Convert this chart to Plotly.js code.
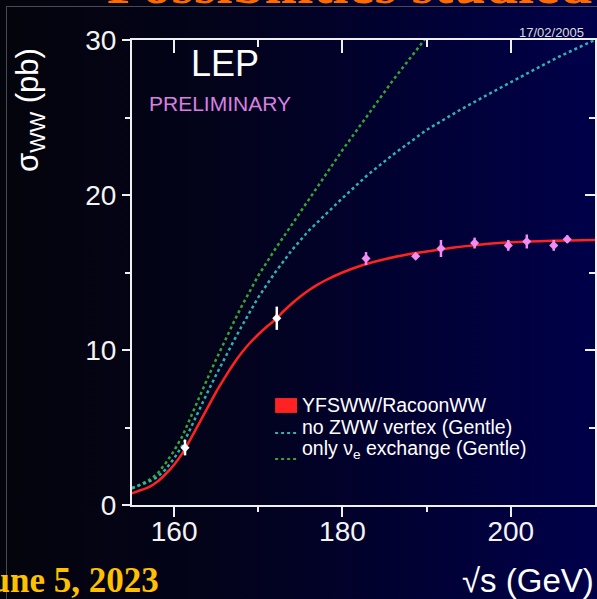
<!DOCTYPE html>
<html>
<head>
<meta charset="utf-8">
<script src="https://cdn.plot.ly/plotly-3.0.1.min.js"></script>
<style>
  html, body { margin:0; padding:0; width:597px; height:599px; overflow:hidden;
    background: linear-gradient(to right, #04040c 0%, #03031a 35%, #010130 65%, #00004a 100%); }
  #frame { position:absolute; left:6px; top:6px; width:640px; height:640px; border-left:1px solid #4a4a55; border-top:1px solid #4a4a55; }
  #chart { position:absolute; left:0; top:0; width:597px; height:599px; }
</style>
</head>
<body>
<div id="frame"></div>
<div id="chart"></div>
<script>
// ---- data ----
const dataEnergy = [161.3, 172.2, 182.8, 188.7, 191.7, 195.7, 199.7, 201.9, 205.1, 206.7];
const dataXsec   = [3.7, 12.05, 15.9, 16.05, 16.55, 16.9, 16.75, 17.0, 16.75, 17.15];
const dataErr    = [0.5, 0.75, 0.42, 0.2, 0.55, 0.35, 0.35, 0.45, 0.35, 0.25];
const dataGroup  = ['white','white','pink','pink','pink','pink','pink','pink','pink','pink'];

const redE = [155,156,157,158,159,160,161,162,163,164,165,166,167,168,169,170,171,172,173,174,175,176,177,178,180,182,185,188,190,193,196,200,205,210];
const redY = [0.75,0.95,1.15,1.5,2.0,2.6,3.35,4.3,5.3,6.3,7.3,8.2,9.05,9.8,10.45,11.0,11.5,11.95,12.5,13.0,13.45,13.85,14.2,14.5,15.0,15.4,15.85,16.2,16.35,16.6,16.78,16.95,17.05,17.1];

const tealE = [155,156,157,158,159,160,161,162,163,164,165,166,167,168,170,172,174,176,178,180,183,186,190,194,197,200,203,206,210];
const tealY = [1.1,1.3,1.5,1.8,2.3,3.0,3.85,5.0,6.2,7.3,8.4,9.5,10.5,11.5,13.4,15.0,16.45,17.7,18.75,19.8,21.3,22.6,24.2,25.5,26.4,27.3,28.15,29.0,30.0];

const greenE = [155,156,157,158,159,160,161,162,163,164,165,166,167,168,170,172,174,176,178,180,182,184,186,188,190];
const greenY = [1.05,1.3,1.6,2.0,2.7,3.5,4.45,5.7,7.0,8.2,9.4,10.6,11.7,12.8,14.8,16.5,18.1,19.7,21.3,22.9,24.4,25.9,27.4,28.8,30.2];

const xTicks = [160, 180, 200];
const xMinor = [170, 190];
const yTicks = [0, 10, 20, 30];
const yMinor = [5, 15, 25];

const legendNames = ['YFSWW/RacoonWW', 'no ZWW vertex (Gentle)', 'only ν<sub>e</sub> exchange (Gentle)'];

// ---- build ----
const colRed = '#ff2222', colTeal = '#2fb3b0', colGreen = '#35a535', colPink = '#f28cf0';
function pick(arr, g) { return arr.filter((v, i) => dataGroup[i] === g); }

const traces = [
  {x: greenE, y: greenY, mode:'lines', line:{color:colGreen, width:2.5, dash:'3px,3px'}, hoverinfo:'skip'},
  {x: tealE, y: tealY, mode:'lines', line:{color:colTeal, width:2.5, dash:'3px,3px'}, hoverinfo:'skip'},
  {x: redE, y: redY, mode:'lines', line:{color:colRed, width:2.5, shape:'spline'}, hoverinfo:'skip'},
  {x: pick(dataEnergy,'white'), y: pick(dataXsec,'white'), mode:'markers',
   marker:{color:'#ffffff', size:7, symbol:'diamond'},
   error_y:{type:'data', array: pick(dataErr,'white'), color:'#ffffff', thickness:2.5, width:0}},
  {x: pick(dataEnergy,'pink'), y: pick(dataXsec,'pink'), mode:'markers',
   marker:{color:colPink, size:7, symbol:'diamond'},
   error_y:{type:'data', array: pick(dataErr,'pink'), color:colPink, thickness:2.5, width:0}},
  {x: [], y: [], xaxis:'x2', yaxis:'y2', showlegend:false, hoverinfo:'skip'}
];

const axColor = '#f0f0f0';
const tickFont = {family:'Liberation Sans, Arial, sans-serif', size:28, color:'#f4f4f4'};

const layout = {
  width:597, height:599,
  margin:{l:132, r:2, t:40, b:94},
  paper_bgcolor:'rgba(0,0,0,0)', plot_bgcolor:'rgba(0,0,0,0)',
  showlegend:false,
  xaxis:{range:[155,210], tickvals:xTicks, ticktext:xTicks.map(String), ticks:'outside', ticklen:10, tickwidth:2, tickcolor:axColor,
         ticklabelstandoff:-10,
         minor:{tickvals:xMinor, ticks:'outside', ticklen:5, tickwidth:2, tickcolor:axColor},
         showline:true, linecolor:axColor, linewidth:2, showgrid:false, zeroline:false, tickfont:tickFont},
  yaxis:{range:[0,30], tickvals:yTicks, ticks:'outside', ticklen:8, tickwidth:2, tickcolor:axColor,
         minor:{tickvals:yMinor, ticks:'outside', ticklen:5, tickwidth:2, tickcolor:axColor},
         showline:true, linecolor:axColor, linewidth:2, showgrid:false, zeroline:false, tickfont:tickFont},
  xaxis2:{range:[155,210], overlaying:'x', side:'top', anchor:'y2', tickvals:xTicks, ticks:'inside', ticklen:13, tickwidth:2, tickcolor:axColor,
          minor:{tickvals:xMinor, ticks:'inside', ticklen:7, tickwidth:2, tickcolor:axColor},
          showticklabels:false, showline:true, linecolor:axColor, linewidth:2, showgrid:false, zeroline:false},
  yaxis2:{range:[0,30], overlaying:'y', side:'right', anchor:'x2', tickvals:yTicks, ticks:'inside', ticklen:10, tickwidth:2, tickcolor:axColor,
          minor:{tickvals:yMinor, ticks:'inside', ticklen:6, tickwidth:2, tickcolor:axColor},
          showticklabels:false, showline:true, linecolor:axColor, linewidth:2, showgrid:false, zeroline:false},
  shapes:[
    {type:'rect', xref:'x', yref:'y', x0:172.0, x1:174.6, y0:5.94, y1:6.9, fillcolor:colRed, line:{width:0}},
    {type:'line', xref:'x', yref:'y', x0:172.0, x1:174.6, y0:4.65, y1:4.65, line:{color:colTeal, width:2, dash:'3px,3px'}},
    {type:'line', xref:'x', yref:'y', x0:172.0, x1:174.6, y0:2.97, y1:2.97, line:{color:colGreen, width:2, dash:'3px,3px'}}
  ],
  annotations:[
    {text:'LEP', xref:'x', yref:'y', x:166.05, y:28.48, showarrow:false, font:{family:'Liberation Sans, Arial', size:36, color:'#ffffff'}},
    {text:'PRELIMINARY', xref:'x', yref:'y', x:165.45, y:25.9, showarrow:false, font:{family:'Liberation Sans, Arial', size:21, color:'#d880e0'}},
    {text:legendNames[0], xref:'x', yref:'y', x:174.96, y:6.42, xanchor:'left', yanchor:'middle', showarrow:false, font:{family:'Liberation Sans, Arial', size:19.5, color:'#ffffff'}},
    {text:legendNames[1], xref:'x', yref:'y', x:174.96, y:5.03, xanchor:'left', yanchor:'middle', showarrow:false, font:{family:'Liberation Sans, Arial', size:19.5, color:'#ffffff'}},
    {text:legendNames[2], xref:'x', yref:'y', x:174.96, y:3.61, xanchor:'left', yanchor:'middle', showarrow:false, font:{family:'Liberation Sans, Arial', size:19.5, color:'#ffffff'}},
    {text:'σ<sub>WW</sub> (pb)', xref:'paper', yref:'paper', x:-0.2203, y:0.8495, textangle:-90, showarrow:false, xanchor:'center', yanchor:'middle',
     font:{family:'Liberation Sans, Arial', size:31, color:'#ffffff'}},
    {text:'√s (GeV)', xref:'paper', yref:'paper', x:0.7084, y:-0.1634, xanchor:'left', yanchor:'middle', showarrow:false,
     font:{family:'Liberation Sans, Arial', size:33, color:'#ffffff'}},
    {text:'17/02/2005', xref:'paper', yref:'paper', x:0.9806, y:1.0172, xanchor:'right', yanchor:'middle', showarrow:false,
     font:{family:'Liberation Sans, Arial', size:13, color:'#dddddd'}},
    {text:'<b>June 5, 2023</b>', xref:'paper', yref:'paper', x:0.0626, y:-0.1634, xanchor:'right', yanchor:'middle', showarrow:false,
     font:{family:'Liberation Serif, Times New Roman, serif', size:35, color:'#ffc000'}},
    {text:'<b>Possibilities studied</b>', xref:'paper', yref:'paper', x:-0.058, y:1.047, xanchor:'left', yanchor:'bottom', showarrow:false,
     font:{family:'Liberation Serif, Times New Roman, serif', size:58, color:'#ff6a00'}}
  ]
};

Plotly.newPlot('chart', traces, layout, {staticPlot:true, displayModeBar:false});
</script>
</body>
</html>
